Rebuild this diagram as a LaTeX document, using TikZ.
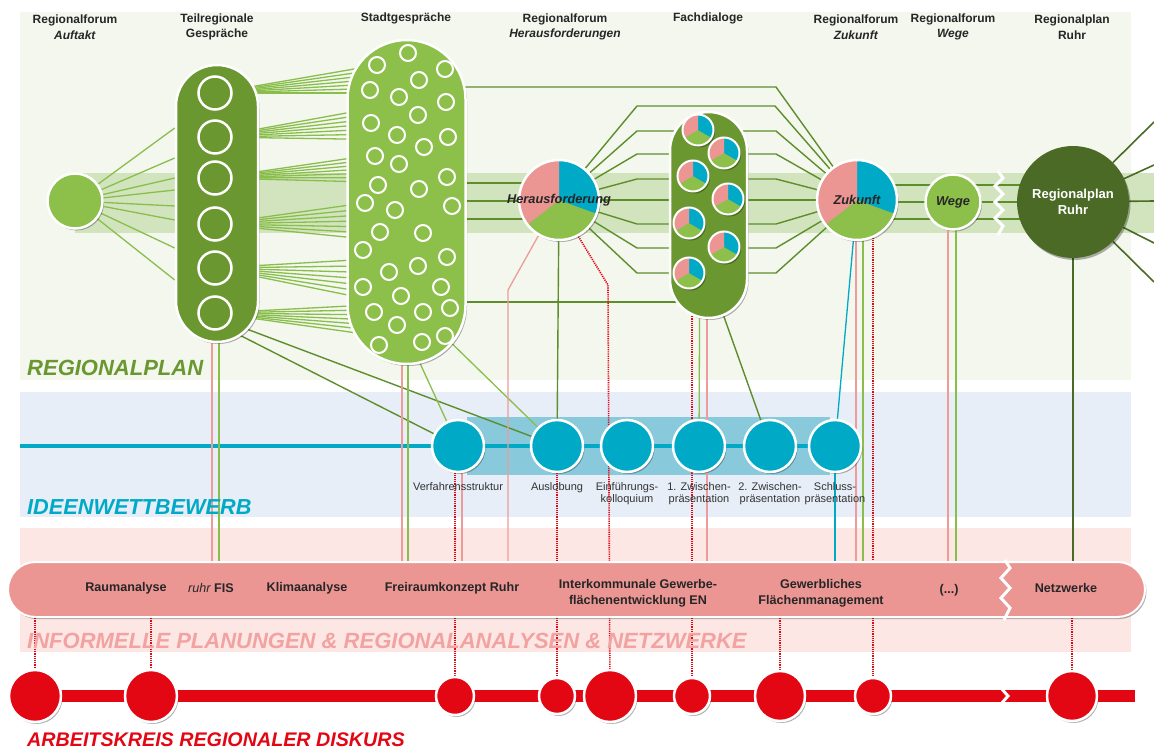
\documentclass[tikz,border=0pt]{standalone}
\usepackage{fontspec}
\setmainfont{Liberation Sans}
\usetikzlibrary{positioning, calc, shadows}

\definecolor{bgplan}{HTML}{F3F7EE}
\definecolor{bgideen}{HTML}{E7EEF7}
\definecolor{bginfo}{HTML}{FCE7E5}
\definecolor{band}{HTML}{D2E4BE}
\definecolor{dgreen}{HTML}{6A972F}
\definecolor{lgreen}{HTML}{8DBF4B}
\definecolor{ruhrgreen}{HTML}{4B6A26}
\definecolor{lineg}{HTML}{8ABE4C}
\definecolor{linedg}{HTML}{5E8E2B}
\definecolor{tealc}{HTML}{00AAC7}
\definecolor{teallight}{HTML}{88C9DB}
\definecolor{ppink}{HTML}{EC9694}
\definecolor{pinktext}{HTML}{F2A3A1}
\definecolor{dred}{HTML}{E30613}
\definecolor{pinkline}{HTML}{EE9C9A}

\pgfdeclarelayer{bg}
\pgfdeclarelayer{lines}
\pgfsetlayers{bg,lines,main}

\tikzstyle{softshadow} = [drop shadow={shadow xshift=1.5pt, shadow yshift=-2pt, opacity=.3, fill=black}]
\tikzstyle{forum} = [circle, fill=lgreen, draw=white, line width=2.5pt, inner sep=0pt, softshadow]
\tikzstyle{pill} = [rectangle, draw=white, line width=2.5pt, inner sep=0pt, softshadow]
\tikzstyle{ring} = [circle, draw=white, line width=2.5pt, inner sep=0pt, minimum size=33pt]
\tikzstyle{cityring} = [circle, draw=white, line width=2pt, inner sep=0pt, minimum size=16pt]
\tikzstyle{bigpie} = [circle, fill=lgreen, draw=white, line width=2.5pt, inner sep=0pt, minimum size=80pt, softshadow,
  path picture={
    \fill[tealc] (path picture bounding box.center) -- ++(90:60pt) arc[start angle=90, end angle=-20, radius=60pt] -- cycle;
    \fill[ppink] (path picture bounding box.center) -- ++(90:60pt) arc[start angle=90, end angle=218, radius=60pt] -- cycle;}]
\tikzstyle{smallpie} = [circle, fill=lgreen, draw=white, line width=2pt, inner sep=0pt, minimum size=31pt, softshadow,
  path picture={
    \fill[tealc] (path picture bounding box.center) -- ++(90:30pt) arc[start angle=90, end angle=-30, radius=30pt] -- cycle;
    \fill[ppink] (path picture bounding box.center) -- ++(90:30pt) arc[start angle=90, end angle=210, radius=30pt] -- cycle;}]
\tikzstyle{pietext} = [font=\bfseries\itshape\fontsize{12.8}{15}\selectfont, text=black!85]
\tikzstyle{ideen} = [circle, fill=tealc, draw=white, line width=2.5pt, inner sep=0pt, minimum size=52pt, softshadow]
\tikzstyle{ideenlabel} = [font=\fontsize{11}{12.5}\selectfont, align=center, text=black!80, inner sep=0pt]
\tikzstyle{infotext} = [font=\bfseries\fontsize{12.6}{16}\selectfont, align=center, text=black!85]
\tikzstyle{arbeit} = [circle, fill=dred, draw=white, line width=2.5pt, inner sep=0pt, softshadow]
\tikzstyle{toplabel} = [font=\bfseries\fontsize{12}{15.5}\selectfont, align=center, text=black!85]
\tikzstyle{sectitle} = [font=\bfseries\itshape\fontsize{22}{24}\selectfont, anchor=west, inner sep=0pt]
\tikzstyle{gline} = [draw=lineg, line width=1.3pt]
\tikzstyle{dline} = [draw=linedg, line width=1.4pt]
\tikzstyle{rline} = [draw=ruhrgreen, line width=1.6pt]
\tikzstyle{pline} = [draw=pinkline, line width=1.3pt]
\tikzstyle{bline} = [draw=tealc, line width=1.3pt]
\tikzstyle{dotline} = [draw=dred, line width=1.6pt, dash pattern=on 1.2pt off 1pt]
\tikzstyle{zigzag} = [draw=white, line width=3pt]

\begin{document}
\begin{tikzpicture}[x=1pt, y=-1pt]
    \useasboundingbox (0,0) rectangle (1154,749);

    % Hintergruende
    \begin{pgfonlayer}{bg}
    \fill[bgplan] (20,12) rectangle (1131,380);
    \fill[bgideen] (20,392) rectangle (1131,517);
    \fill[bginfo] (20,528) rectangle (1131,652);
    \fill[band] (75,173) rectangle (1154,233);
    \fill[teallight] (467,417) rectangle (830,475);
    \end{pgfonlayer}

    % Regionalplan
    \node (auftakt) [forum, minimum size=55pt] at (75,201) {};
    \node (teil) [pill, fill=dgreen, minimum width=82pt, minimum height=277pt, rounded corners=41pt] at (217,203.5) {};
    \foreach \y [count=\i] in {93,137,178,224,268,313}
        \node (tr\i) [ring] at (215,\y) {};
    \node (stadt) [pill, fill=lgreen, minimum width=118pt, minimum height=324pt, rounded corners=59pt] at (406.5,202) {};
    \foreach \x/\y [count=\i] in {408/53, 377/65, 445/69, 419/80, 370/90, 399/97, 446/102, 418/115,
        371/123, 397/135, 448/137, 424/147, 375/156, 399/164, 447/177, 378/185, 419/189, 365/203,
        395/210, 452/206, 380/232, 423/233, 363/250, 447/257, 389/272, 418/266, 363/287, 401/296,
        441/287, 374/312, 423/312, 450/308, 397/325, 379/345, 422/342, 445/336}
        \node (sg\i) [cityring] at (\x,\y) {};
    \node (her) [bigpie] at (559,200) {};
    \node (fach) [pill, fill=dgreen, minimum width=77pt, minimum height=206pt, rounded corners=38.5pt] at (708.5,215) {};
    \foreach \x/\y [count=\i] in {698/130, 724/153, 693/176, 728/199, 689/223, 724/247, 689/273}
        \node (fp\i) [smallpie] at (\x,\y) {};
    \node (zuk) [bigpie] at (857,200) {};
    \node (wege) [forum, minimum size=55pt] at (953,202) {};
    \node (ruhr) [circle, fill=ruhrgreen, minimum size=112pt, inner sep=0pt, text=white, align=center,
        font=\bfseries\fontsize{13}{15.5}\selectfont, softshadow] at (1073,202) {Regionalplan\\Ruhr};
    \node (hertxt) [pietext] at (her) {Herausforderung};
    \node (zuktxt) [pietext] at (zuk) {Zukunft};
    \node (wegetxt) [pietext] at (wege) {Wege};

    % Ideenwettbewerb
    \foreach \x [count=\i] in {458,557,627,699,770,835}
        \node (v\i) [ideen] at (\x,446) {};
    \node (lv1) [ideenlabel, below=9pt of v1] {Verfahrensstruktur};
    \node (lv2) [ideenlabel, below=9pt of v2] {Auslobung};
    \node (lv3) [ideenlabel, below=9pt of v3] {Einführungs-\\kolloquium};
    \node (lv4) [ideenlabel, below=9pt of v4] {1. Zwischen-\\präsentation};
    \node (lv5) [ideenlabel, below=9pt of v5] {2. Zwischen-\\präsentation};
    \node (lv6) [ideenlabel, below=9pt of v6] {Schluss-\\präsentation};

    % Informelle Planungen
    \node (info) [pill, fill=ppink, line width=2pt, minimum width=1137pt, minimum height=55pt, rounded corners=27.5pt] at (576.5,589.5) {};
    \node (t1) [infotext] at (126,588) {Raumanalyse};
    \node (t2) [infotext] at (211,588) {\mdseries\itshape ruhr \bfseries\upshape FIS};
    \node (t3) [infotext] at (307,588) {Klimaanalyse};
    \node (t4) [infotext] at (452,588) {Freiraumkonzept Ruhr};
    \node (t5) [infotext] at (638,593) {Interkommunale Gewerbe-\\flächenentwicklung EN};
    \node (t6) [infotext] at (821,593) {Gewerbliches\\Flächenmanagement};
    \node (t7) [infotext] at (949,590) {(...)};
    \node (t8) [infotext] at (1066,588) {Netzwerke};

    % Arbeitskreis
    \foreach \x/\s [count=\i] in {35/52, 151/52, 455/38, 557/36, 610/52, 692/36, 780/50, 873/36, 1072/50}
        \node (r\i) [arbeit, minimum size=\s pt] at (\x,696) {};
    \coordinate (redend) at (1135,696);
    \coordinate (tealstart) at (20,446);

    % Verbindungen
    \begin{pgfonlayer}{lines}
    \draw[dred, line width=12pt] (r1.center) -- (redend);
    \draw[tealc, line width=3.5pt] (tealstart) -- (v6.center);

    \foreach \y in {128,158,178,190,206,220,248,280}
        \draw[gline] (auftakt) -- (teil.west |- 0,\y);
    \foreach \ya/\yb/\yc [count=\i] in {93/60/93, 137/102/140, 178/150/183, 224/197/243, 268/257/307, 313/303/340}
        \foreach \k in {0,...,6} {
            \pgfmathsetmacro\yt{\yb+\k*(\yc-\yb)/6}
            \draw[gline] (tr\i.center) -- (stadt.center |- 0,\yt);
        }
    \draw[dline] ($(teil.south)+(19,-10)$) -- (v1);
    \draw[dline] ($(teil.south)+(25,-16)$) -- (v2);
    \draw[gline] ($(stadt.south)+(8,-14)$) -- (v1);
    \draw[gline] ($(stadt.south)+(38,-29)$) -- (v2);

    \draw[dline] (stadt.center |- 0,87) -- (776,87) -- (zuk);
    \draw[dline] (her) -- (637,106) -- (775,106) -- (zuk);
    \foreach \y in {131,154,179,224,248,273}
        \draw[dline] (her) -- (637,\y) -- (776,\y) -- (zuk);
    \draw[dline] (her) -- (zuk);
    \foreach \y in {183,201,219}
        \draw[dline] (stadt.center |- 0,\y) -- (her.center |- 0,\y);
    \draw[dline] (stadt.center |- 0,302) -- (fach.center |- 0,302);
    \foreach \y in {185,202,219}
        \draw[dline] (zuk.center |- 0,\y) -- (ruhr.center |- 0,\y);
    \foreach \y [count=\i] in {122,165,201,243,282} {
        \coordinate (out\i) at (1154,\y);
        \draw[rline] (ruhr) -- (out\i);
    }

    \draw[pline] (212,0 |- teil.center) -- (212,0 |- info.center);
    \draw[gline] (219,0 |- teil.center) -- (219,0 |- info.center);
    \draw[pline] (402,0 |- stadt.center) -- (402,0 |- info.center);
    \draw[gline] (408,0 |- stadt.center) -- (408,0 |- info.center);
    \draw[pline] (462,0 |- v1.center) -- (462,0 |- info.center);
    \draw[pline] (her.-120) -- (508,290) -- (508,0 |- info.center);
    \draw[dline] (her) -- (v2);
    \draw[dotline] (her.-62) -- (608,285) -- (r5);
    \draw[dotline] (r3 |- v1.center) -- (r3);
    \draw[dotline] (r4 |- v2.center) -- (r4);
    \draw[dotline] (r6 |- fach.center) -- (r6);
    \draw[gline] (700,0 |- fach.center) -- (v4);
    \draw[pline] (707,0 |- fach.center) -- (707,0 |- info.center);
    \draw[dline] (718,300) -- (v5);
    \draw[bline] (zuk) -- (v6);
    \draw[bline] (v6) -- (v6 |- info.center);
    \draw[pline] (856,0 |- zuk.center) -- (856,0 |- info.center);
    \draw[gline] (863,0 |- zuk.center) -- (863,0 |- info.center);
    \draw[dotline] (r8 |- zuk.center) -- (r8);
    \draw[pline] (948,0 |- wege.center) -- (948,0 |- info.center);
    \draw[gline] (956,0 |- wege.center) -- (956,0 |- info.center);
    \draw[rline] (ruhr) -- (ruhr |- info.center);
    \foreach \i in {1,2,7,9}
        \draw[dotline] (r\i |- info.center) -- (r\i);
    \end{pgfonlayer}

    % Unterbrechungen
    \draw[zigzag] (998,171) -- (1003,178) -- (995,186) -- (1003,194) -- (995,202) -- (1003,210) -- (995,218) -- (1003,226) -- (998,235);
    \draw[zigzag] (1005,560) -- (1010,568) -- (1001,578) -- (1010,588) -- (1001,598) -- (1010,608) -- (1004,620);
    \draw[zigzag] (1001,688) -- (1008,696) -- (1001,704);

    % Beschriftungen
    \node (h1) [toplabel] at (75,27) {Regionalforum\\\textit{Auftakt}};
    \node (h2) [toplabel] at (217,27) {Teilregionale\\Gespräche};
    \node (h3) [toplabel] at (406,18) {Stadtgespräche};
    \node (h4) [toplabel] at (565,27) {Regionalforum\\\textit{Herausforderungen}};
    \node (h5) [toplabel] at (708,18) {Fachdialoge};
    \node (h6) [toplabel] at (856,27) {Regionalforum\\\textit{Zukunft}};
    \node (h7) [toplabel] at (953,27) {Regionalforum\\\textit{Wege}};
    \node (h8) [toplabel] at (1072,27) {Regionalplan\\Ruhr};

    \node (s1) [sectitle, text=dgreen] at (27,368) {REGIONALPLAN};
    \node (s2) [sectitle, text=tealc, font=\bfseries\itshape\fontsize{21.7}{24}\selectfont] at (27,507) {IDEENWETTBEWERB};
    \node (s3) [sectitle, text=pinktext] at (27,641) {INFORMELLE PLANUNGEN \& REGIONALANALYSEN \& NETZWERKE};
    \node (s4) [sectitle, text=dred, font=\bfseries\itshape\fontsize{19.7}{22}\selectfont] at (27,740) {ARBEITSKREIS REGIONALER DISKURS};

\end{tikzpicture}
\end{document}
